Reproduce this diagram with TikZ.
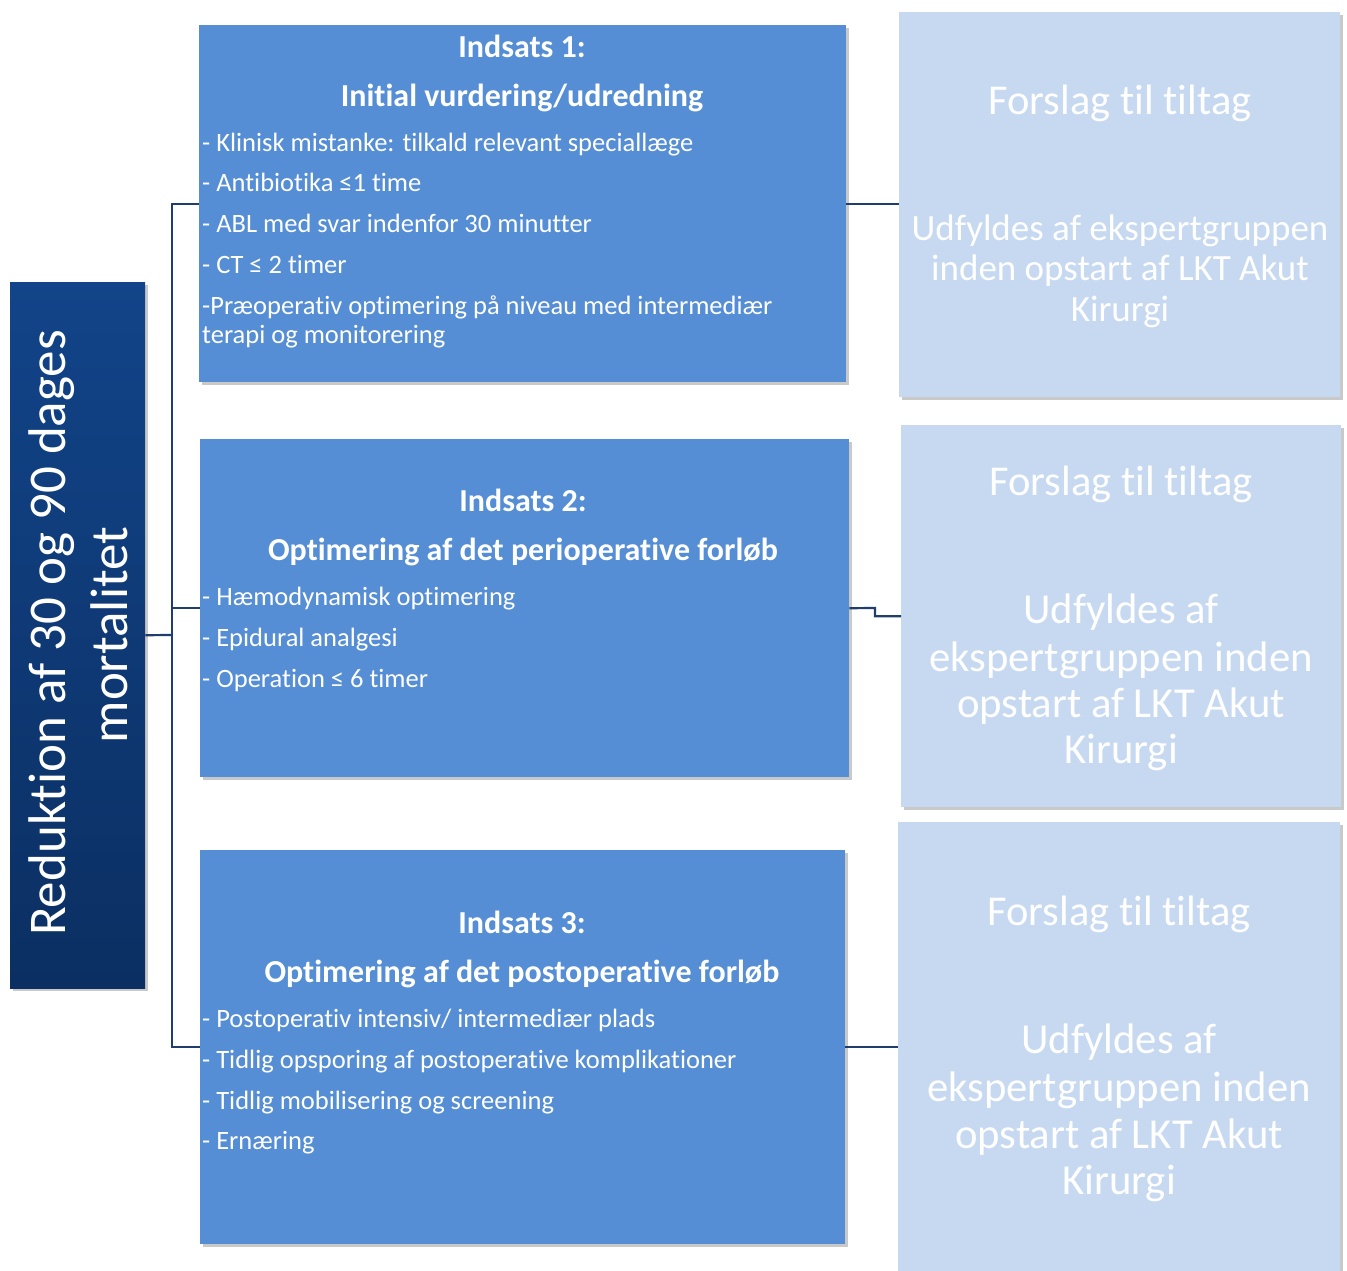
\documentclass[tikz,border=0pt]{standalone}
\usepackage{fontspec}
\setmainfont{Carlito}[Ligatures=NoCommon]
\usetikzlibrary{shadows}
\definecolor{midblue}{HTML}{558ED5}
\definecolor{lightblue}{HTML}{C6D9F1}
\definecolor{navytop}{HTML}{124489}
\definecolor{navybot}{HTML}{0B2F62}
\definecolor{linecol}{HTML}{1F3E6E}
\tikzset{
  shadowed/.style={drop shadow={shadow xshift=2.5pt,shadow yshift=-2.5pt,opacity=0.3,fill=black!70}},
  midbox/.style={fill=midblue,draw=none,anchor=north west,inner sep=0pt,shadowed},
  sidebox/.style={fill=lightblue,draw=none,anchor=north west,inner sep=0pt,shadowed},
  conn/.style={draw=linecol,line width=2.2pt},
  bul/.style={text=white,anchor=base west,inner sep=0pt,font=\fontsize{26.5}{31}\selectfont},
  ttl/.style={text=white,anchor=base,inner sep=0pt,font=\bfseries\fontsize{32}{38}\selectfont},
  fst/.style={text=white,anchor=base,inner sep=0pt,font=\fontsize{42.5}{50}\selectfont},
  ufa/.style={text=white,anchor=base,inner sep=0pt,font=\fontsize{37}{44}\selectfont},
  ufb/.style={text=white,anchor=base,inner sep=0pt,font=\fontsize{42.7}{50}\selectfont},
  lft/.style={text=white,anchor=base,inner sep=0pt,rotate=90,font=\fontsize{53}{60}\selectfont}
}
\begin{document}
\begin{tikzpicture}[x=1pt,y=-1pt]
\useasboundingbox (0,0) rectangle (1347,1270);
% left box
\node[anchor=north west,inner sep=0pt,minimum width=135pt,minimum height=706pt,
  top color=navytop,bottom color=navybot,shadowed] (lb) at (10,282) {};
\node[lft] (lt1) at (65,633) {Reduktion af 30 og 90 dages};
\node[lft] (lt2) at (127,635) {mortalitet};
% middle boxes
\node[midbox,minimum width=647pt,minimum height=357pt] (b1) at (199,25) {};
\node[midbox,minimum width=649pt,minimum height=338pt] (b2) at (200,439) {};
\node[midbox,minimum width=645pt,minimum height=394pt] (b3) at (200,850) {};
% right boxes
\node[sidebox,minimum width=441pt,minimum height=385pt] (r1) at (899,12) {};
\node[sidebox,minimum width=440pt,minimum height=382pt] (r2) at (901,425) {};
\node[sidebox,minimum width=442pt,minimum height=452pt] (r3) at (898,822) {};
% connectors
\coordinate (j) at (172,635);
\draw[conn] (lb.east) -- (j);
\draw[conn] (b1.west) -- (b1.west -| j) -- (b3.west -| j) -- (b3.west);
\draw[conn] (b2.west -| j) -- (b2.west);
\coordinate (e2) at (875,608);
\draw[conn] (b1.east) -- (b1.east -| r1.west);
\draw[conn] (b2.east) -- (e2) -- (e2 |- r2.west) -- (r2.west);
\draw[conn] (b3.east) -- (b3.east -| r3.west);
% box 1 text
\node[ttl] (t1a) at (522,57.5) {Indsats 1:};
\node[ttl] (t1b) at (522,106.5) {Initial vurdering/udredning};
\node[bul] (p11) at (202,151) {- Klinisk mistanke: tilkald relevant speciallæge};
\node[bul] (p12) at (202,191.5) {- Antibiotika ≤1 time};
\node[bul] (p13) at (202,232) {- ABL med svar indenfor 30 minutter};
\node[bul] (p14) at (202,273) {- CT ≤ 2 timer};
\node[bul] (p15) at (202,314) {-Præoperativ optimering på niveau med intermediær};
\node[bul] (p16) at (202,343) {terapi og monitorering};
% box 2 text
\node[ttl] (t2a) at (523,511.5) {Indsats 2:};
\node[ttl] (t2b) at (523,560.5) {Optimering af det perioperative forløb};
\node[bul] (p21) at (202,605) {- Hæmodynamisk optimering};
\node[bul] (p22) at (202,646) {- Epidural analgesi};
\node[bul] (p23) at (202,687) {- Operation ≤ 6 timer};
% box 3 text
\node[ttl] (t3a) at (522,933.5) {Indsats 3:};
\node[ttl] (t3b) at (522,982.5) {Optimering af det postoperative forløb};
\node[bul] (p31) at (202,1027) {- Postoperativ intensiv/ intermediær plads};
\node[bul] (p32) at (202,1068) {- Tidlig opsporing af postoperative komplikationer};
\node[bul] (p33) at (202,1109) {- Tidlig mobilisering og screening};
\node[bul] (p34) at (202,1149) {- Ernæring};
% right texts
\node[fst] (f1) at (1120,114) {Forslag til tiltag};
\node[ufa] (u11) at (1120,240) {Udfyldes af ekspertgruppen};
\node[ufa] (u12) at (1120,280) {inden opstart af LKT Akut};
\node[ufa] (u13) at (1120,321) {Kirurgi};
\node[fst] (f2) at (1121,495) {Forslag til tiltag};
\node[ufb] (u21) at (1121,623.5) {Udfyldes af};
\node[ufb] (u22) at (1121,671.5) {ekspertgruppen inden};
\node[ufb] (u23) at (1121,717.5) {opstart af LKT Akut};
\node[ufb] (u24) at (1121,763.5) {Kirurgi};
\node[fst] (f3) at (1119,925) {Forslag til tiltag};
\node[ufb] (u31) at (1119,1053.5) {Udfyldes af};
\node[ufb] (u32) at (1119,1101.5) {ekspertgruppen inden};
\node[ufb] (u33) at (1119,1148.5) {opstart af LKT Akut};
\node[ufb] (u34) at (1119,1194.5) {Kirurgi};
\end{tikzpicture}
\end{document}
